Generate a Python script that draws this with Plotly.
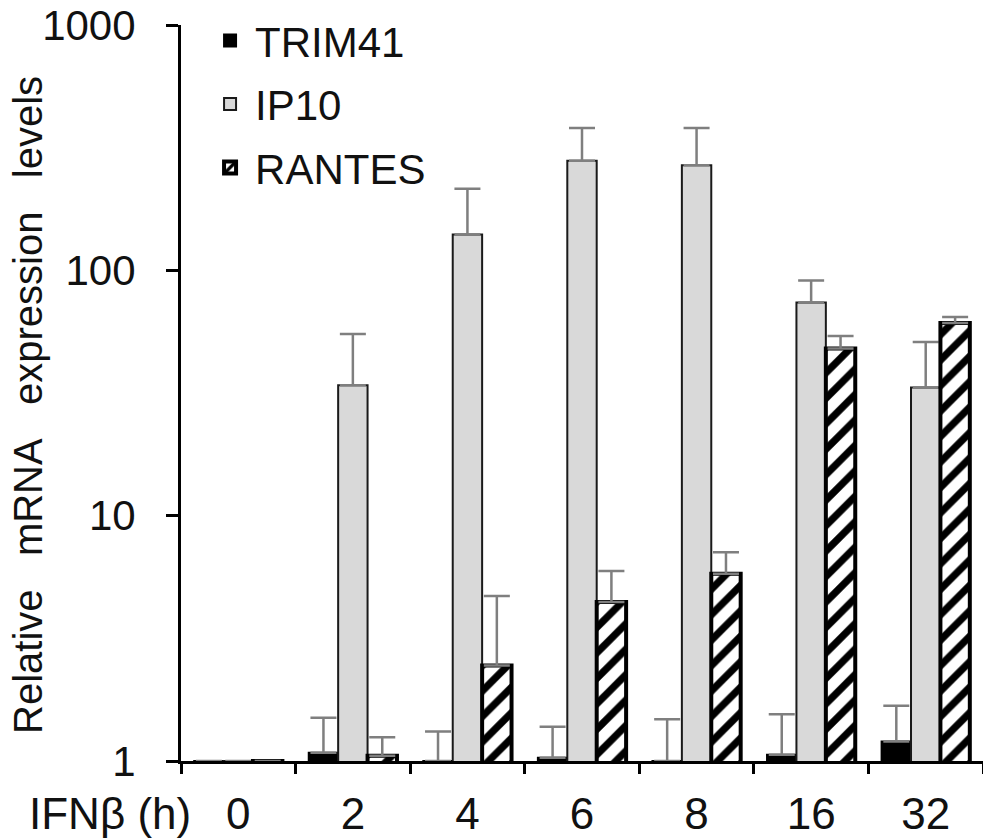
import plotly.graph_objects as go

categories = ["0", "2", "4", "6", "8", "16", "32"]

trim41 = [1.0, 1.08, 1.0, 1.03, 1.0, 1.06, 1.2]
trim41_top = [None, 1.5, 1.32, 1.38, 1.48, 1.55, 1.68]

ip10 = [1.0, 34, 140, 280, 268, 74, 33.3]
ip10_top = [None, 55, 215, 380, 380, 91, 51]

rantes = [1.0, 1.05, 2.45, 4.45, 5.8, 48, 61]
rantes_top = [None, 1.25, 4.7, 5.95, 7.1, 54, 64.5]

y_tickvals = [1, 10, 100, 1000]
y_ticktext = ["1", "10", "100", "1000"]

FONT = "Liberation Sans, Arial, sans-serif"
TXT = "#111111"


def up_err(vals, tops):
    return [None if t is None else t - v for v, t in zip(vals, tops)]


err_style = dict(type="data", symmetric=False, color="#7f7f7f", thickness=2.5, width=13)

fig = go.Figure()
fig.add_trace(go.Bar(
    name="TRIM41", x=categories, y=trim41, legendgroup="a",
    marker=dict(color="black", line=dict(color="black", width=2)),
    error_y=dict(array=up_err(trim41, trim41_top), arrayminus=[0] * 7, **err_style),
))
fig.add_trace(go.Bar(
    name="IP10", x=categories, y=ip10, legendgroup="b",
    marker=dict(color="#d9d9d9", line=dict(color="#1a1a1a", width=2)),
    error_y=dict(array=up_err(ip10, ip10_top), arrayminus=[0] * 7, **err_style),
))
fig.add_trace(go.Bar(
    name="RANTES", x=categories, y=rantes, legendgroup="c",
    marker=dict(color="white", line=dict(color="black", width=4),
                pattern=dict(shape="/", fgcolor="#000000", fgopacity=1,
                             fillmode="overlay", size=18, solidity=0.4)),
    error_y=dict(array=up_err(rantes, rantes_top), arrayminus=[0] * 7, **err_style),
))

fig.update_layout(
    width=983, height=838,
    margin=dict(l=181, r=0, t=25, b=77),
    paper_bgcolor="white", plot_bgcolor="white",
    barmode="group", bargap=0.23, bargroupgap=0,
    font=dict(family=FONT, color=TXT, size=40),
    legend=dict(x=0.03, y=1.025, xanchor="left", yanchor="top",
                font=dict(size=42, family=FONT, color=TXT),
                tracegroupgap=6, bgcolor="rgba(0,0,0,0)", itemwidth=40),
    xaxis=dict(type="category", range=[-0.5, 6.5], showline=True, linecolor="black",
               linewidth=3, ticks="outside", tickson="boundaries", ticklen=10,
               tickwidth=3, tickcolor="black", showgrid=False,
               tickfont=dict(size=44, family=FONT, color=TXT), ticklabelstandoff=12),
    yaxis=dict(type="log", range=[0, 3], tickvals=y_tickvals, ticktext=y_ticktext,
               showline=True, linecolor="black", linewidth=3, ticks="outside",
               ticklen=12, tickwidth=3, tickcolor="black", showgrid=False,
               zeroline=False, tickfont=dict(size=42, family=FONT, color=TXT),
               ticklabelstandoff=22),
    annotations=[
        dict(text="IFNβ (h)", xref="paper", yref="paper", x=-0.0885, y=-0.072,
             xanchor="center", yanchor="middle", showarrow=False,
             font=dict(size=44, family=FONT, color=TXT)),
        dict(text="Relative\u00a0\u00a0 mRNA\u00a0\u00a0 expression\u00a0\u00a0 levels",
             xref="paper", yref="paper", x=-0.1908, y=0.4837, textangle=-90,
             xanchor="center", yanchor="middle", showarrow=False,
             font=dict(size=40, family=FONT, color=TXT)),
    ],
)

fig.write_html("out.html")
